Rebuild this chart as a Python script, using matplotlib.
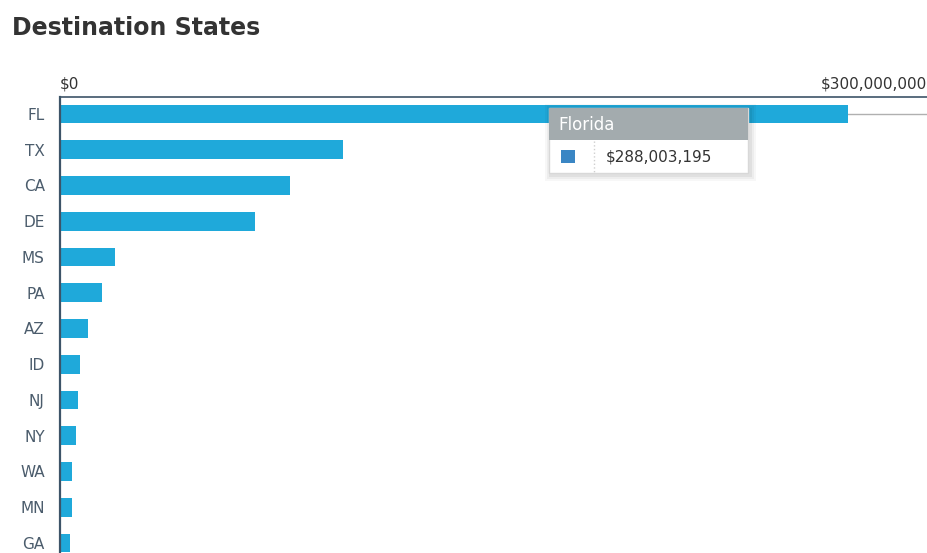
import matplotlib.pyplot as plt
import matplotlib.patches as mpatches
import numpy as np

# -----------------------------
# DATA
# -----------------------------
states = ["FL", "TX", "CA", "DE", "MS", "PA", "AZ", "ID", "NJ", "NY", "WA", "MN", "GA"]
values = [288003195, 103400000, 84100000, 71300000, 20100000, 15400000,
          10200000, 7300000, 6600000, 5800000, 4400000, 4400000, 3700000]
tick_values = [0]
tick_labels = ["$0"]
max_label = "$300,000,000"
tooltip_title = "Florida"
tooltip_value = "$288,003,195"

bar_color = "#1fa9da"
axis_color = "#3d5468"
label_color = "#4b5c6c"

W, H = 928, 553
fig = plt.figure(figsize=(W / 100, H / 100), dpi=100)


def px(x, y):
    # pixel coords (top-left origin) -> figure fraction
    return x / W, 1 - y / H


# axes: left 60px, right 927px, top 97px, runs past bottom edge
row = 35.75
top = 97
y_top, y_bot = -0.475, 13.0
ax_h = (y_bot - y_top) * row
ax = fig.add_axes([60 / W, 1 - (top + ax_h) / H, 867 / W, ax_h / H])

y = np.arange(len(states))
ax.barh(y, values, height=0.53, color=bar_color, zorder=2)

ax.set_xlim(0, 288003195 * 867 / 788)
ax.set_ylim(y_bot, y_top)

ax.set_yticks(y)
ax.set_yticklabels(states, fontsize=11, color=label_color)
ax.tick_params(axis="y", length=0, pad=11)

ax.xaxis.tick_top()
ax.set_xticks(tick_values)
ax.set_xticklabels(tick_labels, fontsize=11, color="#333333")
ax.tick_params(axis="x", length=0, pad=4)
ax.get_xticklabels()[0].set_horizontalalignment("left")
# top value label sits flush with the right end of the axis
ax.annotate(max_label, xy=(1, 1), xycoords="axes fraction", xytext=(0, 4),
            textcoords="offset points", ha="right", va="bottom",
            fontsize=11, color="#333333")

for s in ["right", "bottom"]:
    ax.spines[s].set_visible(False)
ax.spines["top"].set_color(axis_color)
ax.spines["left"].set_color(axis_color)
ax.spines["top"].set_linewidth(1.2)
ax.spines["left"].set_linewidth(1.6)

# hover crosshair from FL bar end
ax.plot([values[0], ax.get_xlim()[1]], [0, 0], color="#b0b0b0", lw=1, zorder=1,
        clip_on=False)

# title
fig.text(*px(12, 28), "Destination States", fontsize=17, fontweight="bold",
         color="#333333", va="center", ha="left")

# tooltip
tx0, ty0, tw, th = 549, 108, 199, 65
for i, a in enumerate([0.05, 0.04, 0.03]):
    d = 2 + i * 2
    x0, y0 = px(tx0 - d + 2, ty0 + th + d + 2)
    fig.patches.append(mpatches.Rectangle((x0, y0), (tw + 2 * d) / W, (th + 2 * d) / H,
                                          transform=fig.transFigure, color="black",
                                          alpha=a, lw=0, zorder=9))
x0, y0 = px(tx0, ty0 + th)
fig.patches.append(mpatches.Rectangle((x0, y0), tw / W, th / H, transform=fig.transFigure,
                                      facecolor="white", edgecolor="#d8d8d8", lw=1, zorder=10))
x0, y0 = px(tx0, ty0 + 32)
fig.patches.append(mpatches.Rectangle((x0, y0), tw / W, 32 / H, transform=fig.transFigure,
                                      facecolor="#a3abae", edgecolor="none", zorder=11))
fig.text(*px(558, 125), tooltip_title, fontsize=12, color="white", va="center",
         ha="left", zorder=12)
x0, y0 = px(561, 163)
fig.patches.append(mpatches.Rectangle((x0, y0), 14 / W, 13 / H, transform=fig.transFigure,
                                      facecolor="#3a86c4", edgecolor="none", zorder=12))
fig.lines.append(plt.Line2D([594 / W, 594 / W], [px(0, 141)[1], px(0, 172)[1]],
                            transform=fig.transFigure, color="#cfcfcf", lw=1,
                            linestyle=":", zorder=12))
fig.text(*px(606, 157), tooltip_value, fontsize=11, color="#333333", va="center",
         ha="left", zorder=12)

fig.savefig("out.png", dpi=100)
